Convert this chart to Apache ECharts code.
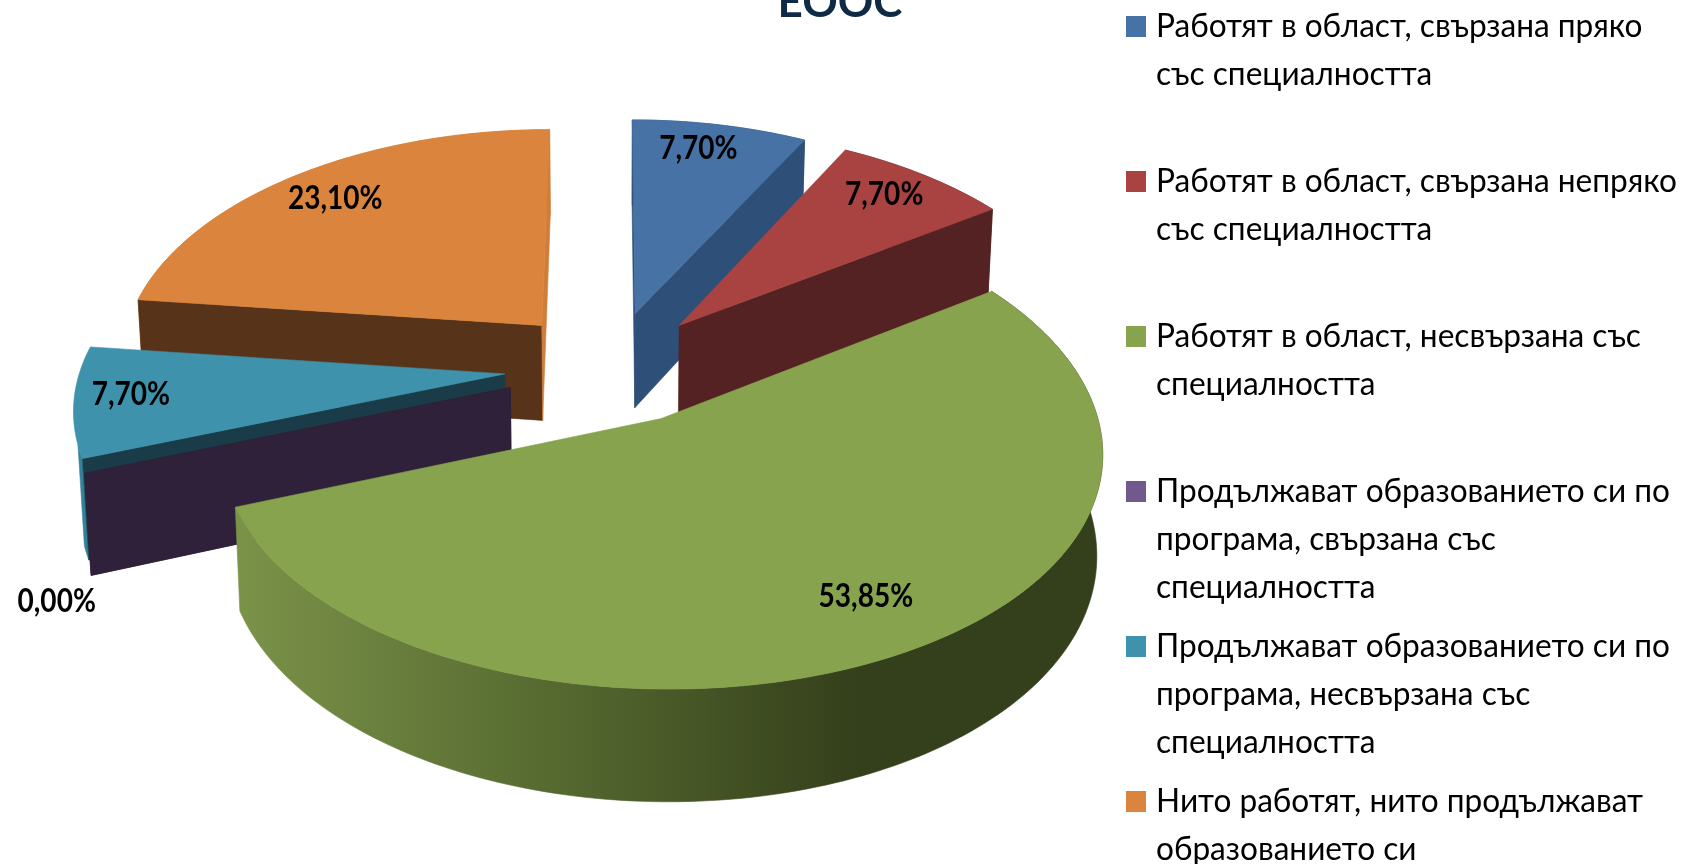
<!DOCTYPE html>
<html>
<head>
<meta charset="utf-8">
<style>html,body{margin:0;padding:0;background:#fff}#c{width:1686px;height:864px}</style>
<script src="https://cdn.jsdelivr.net/npm/echarts@6/dist/echarts.min.js"></script>
</head>
<body>
<div id="c"></div>
<script>
var chartTitle = 'ЕООС';
var categories = [
  'Работят в област, свързана пряко\nсъс специалността',
  'Работят в област, свързана непряко\nсъс специалността',
  'Работят в област, несвързана със\nспециалността',
  'Продължават образованието си по\nпрограма, свързана със\nспециалността',
  'Продължават образованието си по\nпрограма, несвързана със\nспециалността',
  'Нито работят, нито продължават\nобразованието си'
];
var values = [7.70, 7.70, 53.85, 0.00, 7.70, 23.10];

var topColors  = ['#4672a5', '#a84342', '#87a34d', '#71588f', '#3e92ab', '#db843d'];
var faceColors = ['#2e5078', '#542222', '#5a6d33', '#2e2139', '#193c48', '#563319'];
var wallColors = ['#2e5078', '#542222', null, '#2e2139', '#35829a', '#cf7d39'];
var wallSpan   = [1, 1, 1, 1, 0.15, 1];
var drawRank   = [1, 2, 5, 4, 3, 0];
var labelReach = [0.86, 0.85, 0.80, 1.24, 0.87, 0.835];
var labelTurn  = [-0.035, -0.022, -0.062, -0.377, 0.02, 0.003];

var P = {cx: 610.5, cy: 367, rx: 424, ry: 227, persp: 0.114, perspX: 0.13, depth: 97, explode: 0.25, taper: 0.012};
var total = values.reduce(function (a, b) { return a + b; }, 0);
var starts = [];
values.reduce(function (acc, v, i) { starts[i] = acc; return acc + v; }, 0);
function rad(pct) { return pct / total * Math.PI * 2; }

function proj(U, V, h) {
  var w = 1 / (1 - P.persp * V), wx = 1 / (1 - P.perspX * V);
  return [P.cx + P.rx * U * wx * (1 - P.taper * h), P.cy + P.ry * V * w + h * P.depth * w];
}

function renderSlice(params, api) {
  var i = params.dataIndex;
  var v = api.value(0);
  var a0 = rad(starts[i]), a1 = rad(starts[i] + v), mid = (a0 + a1) / 2;
  var ou = P.explode * Math.sin(mid), ov = -P.explode * Math.cos(mid);
  function rim(t, h, r) {
    r = r === undefined ? 1 : r;
    return proj(ou + r * Math.sin(t), ov - r * Math.cos(t), h);
  }
  var apexT = proj(ou, ov, 0), apexB = proj(ou, ov, 1);
  var n = Math.max(1, Math.ceil((a1 - a0) / 0.02));
  var top = [apexT], arcT = [], arcB = [];
  for (var k = 0; k <= n; k++) {
    var f = k / n, t = a0 + (a1 - a0) * f;
    var pT = rim(t, 0), pB = rim(t, 1);
    top.push(pT);
    if (f <= wallSpan[i]) { arcT.push(pT); arcB.push(pB); }
  }
  var z = drawRank[i] * 10 + 1;
  function poly(points, fill, dz) {
    return {type: 'polygon', z2: z + dz, silent: true, shape: {points: points},
      style: {fill: fill, stroke: fill, lineWidth: 0.6}};
  }
  var kids = [];
  var wallFill = wallColors[i] || new echarts.graphic.LinearGradient(238, 0, 860, 0, [
    {offset: 0, color: '#7b9249'}, {offset: 0.5, color: '#566a30'}, {offset: 1, color: '#343f1b'}
  ], true);
  if (v > 0) kids.push(poly(arcT.concat(arcB.slice().reverse()), wallFill, 0));
  var mp = rim(mid, 0);
  [a0, a1].forEach(function (ang) {
    var b = rim(ang, 0), dx = b[0] - apexT[0], dy = b[1] - apexT[1];
    var quad = [apexT, b, rim(ang, 1), apexB];
    if (Math.abs(dx) < 10) {
      if (v > 0) kids.push(poly(quad, wallColors[i], 1));
      return;
    }
    var side = (mp[1] - apexT[1]) - dy / dx * (mp[0] - apexT[0]);
    if (side < 0.5) kids.push(poly(quad, faceColors[i], 1));
  });
  if (v > 0) kids.push(poly(top, topColors[i], 2));
  var lp = rim(mid + labelTurn[i], 0, labelReach[i]);
  kids.push({type: 'text', z2: 200, silent: true, x: lp[0], y: lp[1], scaleX: 0.85, style: {
    text: v.toFixed(2).replace('.', ',') + '%', fill: '#000',
    font: 'bold 33px Lato, "Open Sans", sans-serif', textAlign: 'center', textVerticalAlign: 'middle'
  }});
  return {type: 'group', children: kids};
}

var legendEls = [];
categories.forEach(function (name, i) {
  var y = 16 + i * 155;
  legendEls.push({type: 'rect', x: 1126, y: y, shape: {x: 0, y: 0, width: 20, height: 21},
    style: {fill: topColors[i]}});
  legendEls.push({type: 'text', x: 1156, y: y - 14, scaleX: 0.958, style: {
    text: name, fill: '#000', font: '33px Lato, "Open Sans", sans-serif',
    lineHeight: 48, textVerticalAlign: 'top', textAlign: 'left'
  }});
});

var chart = echarts.init(document.getElementById('c'), null, {renderer: 'canvas'});
chart.setOption({
  animation: false,
  backgroundColor: '#fff',
  title: {text: chartTitle, left: 835, top: -24, textAlign: 'center',
    textStyle: {color: '#0f2a47', fontSize: 44, fontWeight: 'bold', fontFamily: 'Lato, "Open Sans", sans-serif'}},
  graphic: {elements: legendEls},
  series: [{
    type: 'custom', coordinateSystem: 'none', renderItem: renderSlice, clip: false,
    data: values.map(function (v, i) { return {name: categories[i], value: [v]}; })
  }]
});
</script>
</body>
</html>
